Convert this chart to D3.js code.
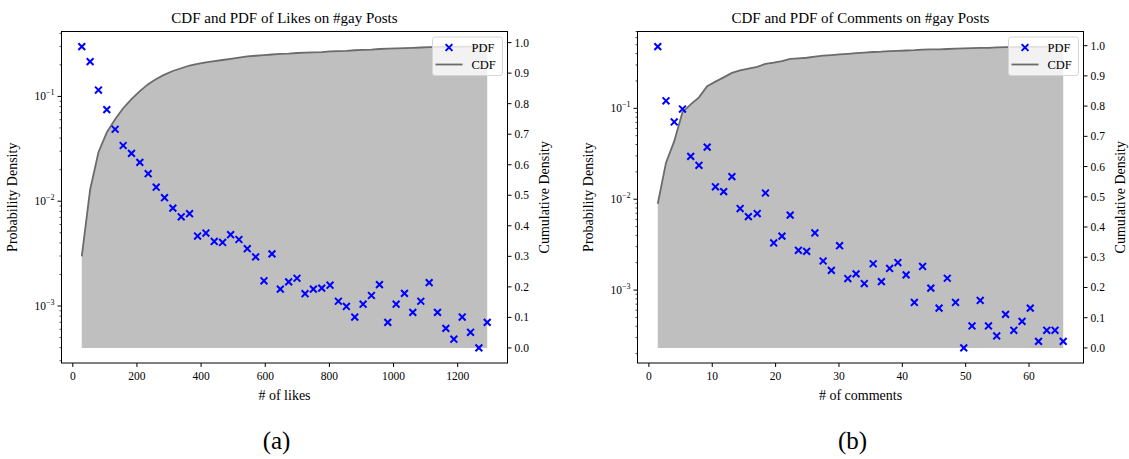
<!DOCTYPE html>
<html><head><meta charset="utf-8">
<script src="https://cdn.jsdelivr.net/npm/d3@7"></script>
<style>
body{margin:0;background:#fff}
svg{display:block}
text{font-family:"Liberation Serif","DejaVu Serif",serif;fill:#000}
</style>
</head><body>
<svg id="chart" width="1129" height="459"></svg>
<script>
// ---------- data ----------
const likesX = [28,54,80,106,132,157,183,209,235,260,286,312,338,364,389,415,441,467,492,518,544,570,596,621,647,673,699,724,750,776,802,828,853,879,905,931,956,982,1008,1034,1060,1085,1111,1137,1163,1188,1214,1240,1266,1292];
const likesPDF = [0.299,0.215,0.115,0.0748,0.0486,0.034,0.0286,0.0235,0.0183,0.0136,0.0108,0.0086,0.0071,0.0076,0.00465,0.00497,0.00413,0.00404,0.00479,0.00431,0.00352,0.00294,0.00174,0.00314,0.00145,0.0017,0.00184,0.00131,0.00145,0.00148,0.00158,0.00111,0.00099,0.000785,0.00104,0.00126,0.0016,0.000698,0.00104,0.00132,0.000869,0.00111,0.00167,0.000869,0.000612,0.000482,0.000785,0.000561,0.000398,0.000698];
const likesCDF = [0.300,0.518,0.641,0.706,0.749,0.785,0.815,0.841,0.864,0.881,0.895,0.907,0.916,0.925,0.930,0.935,0.939,0.943,0.947,0.951,0.955,0.957,0.959,0.961,0.963,0.964,0.966,0.967,0.968,0.969,0.971,0.972,0.973,0.975,0.976,0.977,0.979,0.980,0.981,0.982,0.983,0.984,0.985,0.986,0.986,0.986,0.987,0.987,0.987,0.987];

const commentsX = [1.4,2.7,4.0,5.3,6.6,7.9,9.2,10.5,11.8,13.1,14.4,15.7,17.1,18.4,19.7,21.0,22.3,23.6,24.9,26.2,27.5,28.8,30.1,31.4,32.7,34.0,35.4,36.7,38.0,39.3,40.6,41.9,43.2,44.5,45.8,47.1,48.4,49.7,51.0,52.3,53.6,54.9,56.3,57.6,58.9,60.2,61.5,62.8,64.1,65.4];
const commentsPDF = [0.478,0.121,0.0708,0.0982,0.0296,0.0236,0.0374,0.0137,0.0121,0.0177,0.00789,0.00644,0.00695,0.0117,0.0033,0.00393,0.00668,0.00274,0.00267,0.00425,0.00209,0.00165,0.00308,0.00134,0.00151,0.00118,0.00195,0.00124,0.00173,0.00201,0.00147,0.000731,0.00182,0.00105,0.000634,0.00135,0.000731,0.000231,0.000403,0.000769,0.000403,0.000313,0.000541,0.000361,0.000453,0.000634,0.000273,0.000361,0.000361,0.000273];
const commentsCDF = [0.477,0.613,0.684,0.780,0.806,0.829,0.866,0.881,0.895,0.910,0.918,0.924,0.930,0.940,0.944,0.949,0.956,0.958,0.960,0.964,0.967,0.969,0.971,0.973,0.975,0.977,0.979,0.980,0.982,0.983,0.984,0.985,0.987,0.988,0.988,0.989,0.990,0.991,0.992,0.993,0.993,0.994,0.995,0.995,0.996,0.996,0.996,0.997,0.997,0.997];

const likesTicks = [0,200,400,600,800,1000,1200];
const commentsTicks = [0,10,20,30,40,50,60];
const cdfTicks = [0.0,0.1,0.2,0.3,0.4,0.5,0.6,0.7,0.8,0.9,1.0];
const logMajor = [-1,-2,-3];
const titles = ["CDF and PDF of Likes on #gay Posts","CDF and PDF of Comments on #gay Posts"];
const xLabels = ["# of likes","# of comments"];
const captions = ["(a)","(b)"];
const legendLabels = ["PDF","CDF"];

// ---------- layout ----------
const svg = d3.select("#chart");
const panels = [
  {x0:61.5, x1:507.5, xs:likesX, pdf:likesPDF, cdf:likesCDF, ticks:likesTicks, title:titles[0], xl:xLabels[0], cap:captions[0]},
  {x0:637.5, x1:1083.5, xs:commentsX, pdf:commentsPDF, cdf:commentsCDF, ticks:commentsTicks, title:titles[1], xl:xLabels[1], cap:captions[1]}
];
const y0 = 31.5, y1 = 363;
const blue = "#0000ff";

function pad(ext, f){ const s = ext[1]-ext[0]; return [ext[0]-f*s, ext[1]+f*s]; }

panels.forEach(p => {
  const g = svg.append("g");
  const x = d3.scaleLinear().domain(pad(d3.extent(p.xs),0.05)).range([p.x0,p.x1]);
  const le = pad(d3.extent(p.pdf).map(Math.log10),0.05);
  const yL = d3.scaleLog().domain([10**le[0],10**le[1]]).range([y1,y0]);
  const m = d3.max(p.cdf);
  const yR = d3.scaleLinear().domain([-0.05*m,1.05*m]).range([y1,y0]);
  const cx = (p.x0+p.x1)/2;

  // fill + cdf line
  const pts = p.xs.map((v,i)=>({x:v,c:p.cdf[i]}));
  g.append("path").datum(pts)
    .attr("d", d3.area().x(d=>x(d.x)).y0(yR(0)).y1(d=>yR(d.c)))
    .attr("fill","#bfbfbf");
  g.append("path").datum(pts)
    .attr("d", d3.line().x(d=>x(d.x)).y(d=>yR(d.c)))
    .attr("fill","none").attr("stroke","#6b6b6b").attr("stroke-width",1.8);

  // pdf markers
  const s = 3.4;
  g.selectAll("path.pdf").data(p.xs.map((v,i)=>[v,p.pdf[i]])).join("path")
    .attr("class","pdf")
    .attr("d", d=>{const a=x(d[0]), b=yL(d[1]); return `M${a-s},${b-s}L${a+s},${b+s}M${a-s},${b+s}L${a+s},${b-s}`;})
    .attr("stroke",blue).attr("stroke-width",2).attr("fill","none");

  // frame
  g.append("rect").attr("x",p.x0).attr("y",y0).attr("width",p.x1-p.x0).attr("height",y1-y0)
    .attr("fill","none").attr("stroke","#000").attr("stroke-width",1);

  // bottom axis
  p.ticks.forEach(t=>{
    g.append("line").attr("x1",x(t)).attr("x2",x(t)).attr("y1",y1).attr("y2",y1+4).attr("stroke","#000");
    g.append("text").attr("x",x(t)).attr("y",y1+17).attr("text-anchor","middle").attr("font-size",11.5).text(t);
  });
  g.append("text").attr("x",cx).attr("y",y1+37).attr("text-anchor","middle").attr("font-size",14).text(p.xl);

  // left log axis
  const [dmin,dmax] = yL.domain();
  for(let e=Math.floor(Math.log10(dmin)); e<=Math.ceil(Math.log10(dmax)); e++){
    for(let k=1;k<10;k++){
      const v = k*10**e;
      if(v<dmin||v>dmax) continue;
      const major = k===1;
      g.append("line").attr("x1",p.x0).attr("x2",p.x0-(major?4:2)).attr("y1",yL(v)).attr("y2",yL(v))
        .attr("stroke","#000").attr("stroke-width",major?1:0.7);
    }
  }
  logMajor.forEach(e=>{
    const v = 10**e;
    if(v<dmin||v>dmax) return;
    const t = g.append("text").attr("x",p.x0-7).attr("y",yL(v)+4).attr("text-anchor","end").attr("font-size",11.5);
    t.append("tspan").text("10");
    t.append("tspan").attr("dy",-5).attr("font-size",8).text("\u2212"+(-e));
  });
  g.append("text").attr("transform",`translate(${p.x0-45},${(y0+y1)/2}) rotate(-90)`)
    .attr("text-anchor","middle").attr("font-size",14).text("Probability Density");

  // right axis
  cdfTicks.forEach(t=>{
    g.append("line").attr("x1",p.x1).attr("x2",p.x1+4).attr("y1",yR(t)).attr("y2",yR(t)).attr("stroke","#000");
    g.append("text").attr("x",p.x1+7).attr("y",yR(t)+4).attr("font-size",11.5).text(t.toFixed(1));
  });
  g.append("text").attr("transform",`translate(${p.x1+41},${(y0+y1)/2}) rotate(-90)`)
    .attr("text-anchor","middle").attr("font-size",14).text("Cumulative Density");

  // title + caption
  g.append("text").attr("x",cx).attr("y",y0-9).attr("text-anchor","middle").attr("font-size",15).text(p.title);
  g.append("text").attr("x",cx-8).attr("y",449).attr("text-anchor","middle").attr("font-size",25).text(p.cap);

  // legend
  const lx = p.x1-75, ly = y0+5.5;
  const lg = g.append("g");
  lg.append("rect").attr("x",lx).attr("y",ly).attr("width",70).attr("height",38.5).attr("rx",2.5)
    .attr("fill","#fff").attr("fill-opacity",0.8).attr("stroke","#d6d6d6");
  const mx = lx+16.5, my = ly+10.5;
  lg.append("path").attr("d",`M${mx-s},${my-s}L${mx+s},${my+s}M${mx-s},${my+s}L${mx+s},${my-s}`)
    .attr("stroke",blue).attr("stroke-width",2);
  lg.append("line").attr("x1",lx+3).attr("x2",lx+30).attr("y1",ly+27.5).attr("y2",ly+27.5)
    .attr("stroke","#6b6b6b").attr("stroke-width",1.8);
  lg.append("text").attr("x",lx+39).attr("y",my+4).attr("font-size",12.5).text(legendLabels[0]);
  lg.append("text").attr("x",lx+39).attr("y",ly+31.5).attr("font-size",12.5).text(legendLabels[1]);
});
</script>
</body></html>
